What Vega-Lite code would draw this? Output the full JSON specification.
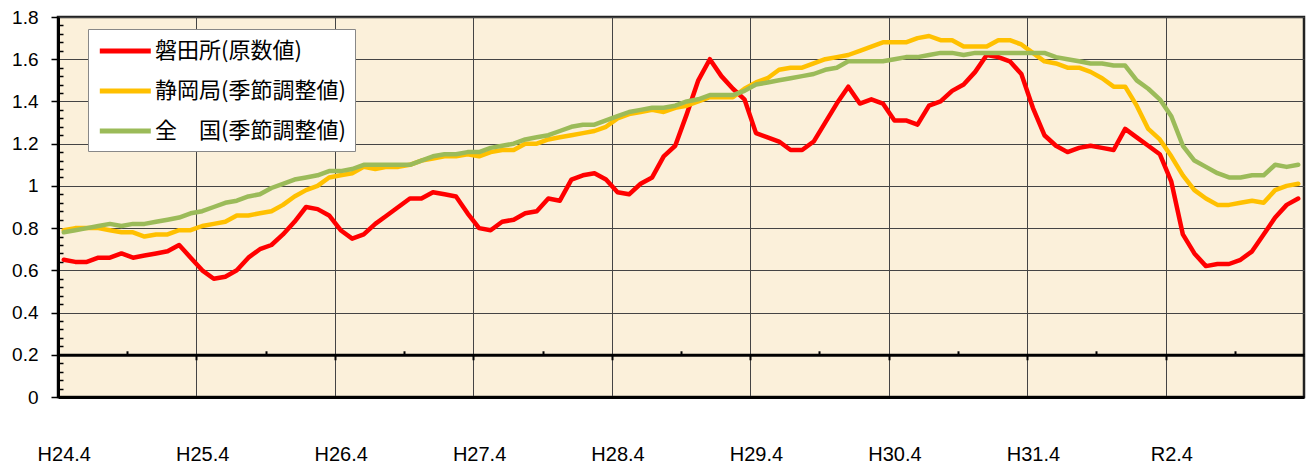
{
  "$schema": "https://vega.github.io/schema/vega-lite/v6.json",
  "width": 1246,
  "height": 380,
  "autosize": {"type": "none"},
  "padding": {"left": 58, "top": 17, "right": 3, "bottom": 67},
  "background": "white",
  "config": {
    "view": {"fill": "#FBF0DA", "stroke": "#222", "strokeWidth": 2.5},
    "font": "Liberation Sans",
    "axis": {"labelFont": "Liberation Sans", "labelColor": "#000", "title": null}
  },
  "data": {
    "values": [
      {"m": 0, "a": 0.65, "b": 0.79, "c": 0.78},
      {"m": 1, "a": 0.64, "b": 0.80, "c": 0.79},
      {"m": 2, "a": 0.64, "b": 0.80, "c": 0.80},
      {"m": 3, "a": 0.66, "b": 0.80, "c": 0.81},
      {"m": 4, "a": 0.66, "b": 0.79, "c": 0.82},
      {"m": 5, "a": 0.68, "b": 0.78, "c": 0.81},
      {"m": 6, "a": 0.66, "b": 0.78, "c": 0.82},
      {"m": 7, "a": 0.67, "b": 0.76, "c": 0.82},
      {"m": 8, "a": 0.68, "b": 0.77, "c": 0.83},
      {"m": 9, "a": 0.69, "b": 0.77, "c": 0.84},
      {"m": 10, "a": 0.72, "b": 0.79, "c": 0.85},
      {"m": 11, "a": 0.66, "b": 0.79, "c": 0.87},
      {"m": 12, "a": 0.60, "b": 0.81, "c": 0.88},
      {"m": 13, "a": 0.56, "b": 0.82, "c": 0.90},
      {"m": 14, "a": 0.57, "b": 0.83, "c": 0.92},
      {"m": 15, "a": 0.60, "b": 0.86, "c": 0.93},
      {"m": 16, "a": 0.66, "b": 0.86, "c": 0.95},
      {"m": 17, "a": 0.70, "b": 0.87, "c": 0.96},
      {"m": 18, "a": 0.72, "b": 0.88, "c": 0.99},
      {"m": 19, "a": 0.77, "b": 0.91, "c": 1.01},
      {"m": 20, "a": 0.83, "b": 0.95, "c": 1.03},
      {"m": 21, "a": 0.90, "b": 0.98, "c": 1.04},
      {"m": 22, "a": 0.89, "b": 1.00, "c": 1.05},
      {"m": 23, "a": 0.86, "b": 1.04, "c": 1.07},
      {"m": 24, "a": 0.79, "b": 1.05, "c": 1.07},
      {"m": 25, "a": 0.75, "b": 1.06, "c": 1.08},
      {"m": 26, "a": 0.77, "b": 1.09, "c": 1.10},
      {"m": 27, "a": 0.82, "b": 1.08, "c": 1.10},
      {"m": 28, "a": 0.86, "b": 1.09, "c": 1.10},
      {"m": 29, "a": 0.90, "b": 1.09, "c": 1.10},
      {"m": 30, "a": 0.94, "b": 1.10, "c": 1.10},
      {"m": 31, "a": 0.94, "b": 1.12, "c": 1.12},
      {"m": 32, "a": 0.97, "b": 1.13, "c": 1.14},
      {"m": 33, "a": 0.96, "b": 1.14, "c": 1.15},
      {"m": 34, "a": 0.95, "b": 1.14, "c": 1.15},
      {"m": 35, "a": 0.87, "b": 1.15, "c": 1.16},
      {"m": 36, "a": 0.80, "b": 1.14, "c": 1.16},
      {"m": 37, "a": 0.79, "b": 1.16, "c": 1.18},
      {"m": 38, "a": 0.83, "b": 1.17, "c": 1.19},
      {"m": 39, "a": 0.84, "b": 1.17, "c": 1.20},
      {"m": 40, "a": 0.87, "b": 1.20, "c": 1.22},
      {"m": 41, "a": 0.88, "b": 1.20, "c": 1.23},
      {"m": 42, "a": 0.94, "b": 1.22, "c": 1.24},
      {"m": 43, "a": 0.93, "b": 1.23, "c": 1.26},
      {"m": 44, "a": 1.03, "b": 1.24, "c": 1.28},
      {"m": 45, "a": 1.05, "b": 1.25, "c": 1.29},
      {"m": 46, "a": 1.06, "b": 1.26, "c": 1.29},
      {"m": 47, "a": 1.03, "b": 1.28, "c": 1.31},
      {"m": 48, "a": 0.97, "b": 1.32, "c": 1.33},
      {"m": 49, "a": 0.96, "b": 1.34, "c": 1.35},
      {"m": 50, "a": 1.01, "b": 1.35, "c": 1.36},
      {"m": 51, "a": 1.04, "b": 1.36, "c": 1.37},
      {"m": 52, "a": 1.14, "b": 1.35, "c": 1.37},
      {"m": 53, "a": 1.19, "b": 1.37, "c": 1.38},
      {"m": 54, "a": 1.34, "b": 1.38, "c": 1.40},
      {"m": 55, "a": 1.50, "b": 1.40, "c": 1.41},
      {"m": 56, "a": 1.60, "b": 1.42, "c": 1.43},
      {"m": 57, "a": 1.52, "b": 1.42, "c": 1.43},
      {"m": 58, "a": 1.46, "b": 1.42, "c": 1.43},
      {"m": 59, "a": 1.41, "b": 1.46, "c": 1.45},
      {"m": 60, "a": 1.25, "b": 1.49, "c": 1.48},
      {"m": 61, "a": 1.23, "b": 1.51, "c": 1.49},
      {"m": 62, "a": 1.21, "b": 1.55, "c": 1.50},
      {"m": 63, "a": 1.17, "b": 1.56, "c": 1.51},
      {"m": 64, "a": 1.17, "b": 1.56, "c": 1.52},
      {"m": 65, "a": 1.21, "b": 1.58, "c": 1.53},
      {"m": 66, "a": 1.30, "b": 1.60, "c": 1.55},
      {"m": 67, "a": 1.39, "b": 1.61, "c": 1.56},
      {"m": 68, "a": 1.47, "b": 1.62, "c": 1.59},
      {"m": 69, "a": 1.39, "b": 1.64, "c": 1.59},
      {"m": 70, "a": 1.41, "b": 1.66, "c": 1.59},
      {"m": 71, "a": 1.39, "b": 1.68, "c": 1.59},
      {"m": 72, "a": 1.31, "b": 1.68, "c": 1.60},
      {"m": 73, "a": 1.31, "b": 1.68, "c": 1.61},
      {"m": 74, "a": 1.29, "b": 1.70, "c": 1.61},
      {"m": 75, "a": 1.38, "b": 1.71, "c": 1.62},
      {"m": 76, "a": 1.40, "b": 1.69, "c": 1.63},
      {"m": 77, "a": 1.45, "b": 1.69, "c": 1.63},
      {"m": 78, "a": 1.48, "b": 1.66, "c": 1.62},
      {"m": 79, "a": 1.54, "b": 1.66, "c": 1.63},
      {"m": 80, "a": 1.62, "b": 1.66, "c": 1.63},
      {"m": 81, "a": 1.61, "b": 1.69, "c": 1.63},
      {"m": 82, "a": 1.59, "b": 1.69, "c": 1.63},
      {"m": 83, "a": 1.53, "b": 1.67, "c": 1.63},
      {"m": 84, "a": 1.37, "b": 1.63, "c": 1.63},
      {"m": 85, "a": 1.24, "b": 1.59, "c": 1.63},
      {"m": 86, "a": 1.19, "b": 1.58, "c": 1.61},
      {"m": 87, "a": 1.16, "b": 1.56, "c": 1.60},
      {"m": 88, "a": 1.18, "b": 1.56, "c": 1.59},
      {"m": 89, "a": 1.19, "b": 1.54, "c": 1.58},
      {"m": 90, "a": 1.18, "b": 1.51, "c": 1.58},
      {"m": 91, "a": 1.17, "b": 1.47, "c": 1.57},
      {"m": 92, "a": 1.27, "b": 1.47, "c": 1.57},
      {"m": 93, "a": 1.23, "b": 1.38, "c": 1.50},
      {"m": 94, "a": 1.19, "b": 1.27, "c": 1.46},
      {"m": 95, "a": 1.15, "b": 1.22, "c": 1.41},
      {"m": 96, "a": 1.02, "b": 1.14, "c": 1.33},
      {"m": 97, "a": 0.77, "b": 1.05, "c": 1.19},
      {"m": 98, "a": 0.68, "b": 0.98, "c": 1.12},
      {"m": 99, "a": 0.62, "b": 0.94, "c": 1.09},
      {"m": 100, "a": 0.63, "b": 0.91, "c": 1.06},
      {"m": 101, "a": 0.63, "b": 0.91, "c": 1.04},
      {"m": 102, "a": 0.65, "b": 0.92, "c": 1.04},
      {"m": 103, "a": 0.69, "b": 0.93, "c": 1.05},
      {"m": 104, "a": 0.77, "b": 0.92, "c": 1.05},
      {"m": 105, "a": 0.85, "b": 0.98, "c": 1.10},
      {"m": 106, "a": 0.91, "b": 1.00, "c": 1.09},
      {"m": 107, "a": 0.94, "b": 1.01, "c": 1.10}
    ]
  },
  "transform": [{"fold": ["a", "b", "c"], "as": ["s", "v"]}],
  "layer": [
    {
      "mark": {"type": "line", "strokeWidth": 4.5, "strokeJoin": "round", "strokeCap": "round"},
      "encoding": {
        "x": {
          "field": "m", "type": "quantitative",
          "scale": {"domain": [-0.5, 107.5], "nice": false, "zero": false},
          "axis": {"orient": "bottom", "values": [11.5, 23.5, 35.5, 47.5, 59.5, 71.5, 83.5, 95.5], "grid": true, "gridColor": "#444", "gridWidth": 1, "gridOpacity": 1, "ticks": false, "labels": false, "domain": true, "domainColor": "#000", "domainWidth": 3}
        },
        "y": {
          "field": "v", "type": "quantitative",
          "scale": {"domain": [0, 1.8], "nice": false},
          "axis": {"orient": "left", "values": [0, 0.2, 0.4, 0.6, 0.8, 1, 1.2, 1.4, 1.6, 1.8], "format": "~g", "grid": true, "gridColor": "#444", "gridWidth": 1, "gridOpacity": 1, "ticks": true, "tickSize": 7, "tickColor": "#000", "tickWidth": 1.5, "labelFontSize": 19, "labelPadding": 13, "domain": true, "domainColor": "#000", "domainWidth": 3}
        },
        "color": {
          "field": "s", "type": "nominal",
          "scale": {"domain": ["a", "b", "c"], "range": ["#FF0000", "#FFC000", "#9BBB59"]},
          "legend": {
            "orient": "none", "legendX": 30, "legendY": 12, "title": null,
            "fillColor": "#FFFFFF", "strokeColor": "#888888", "padding": 9,
            "symbolType": "M-1,0H4", "symbolSize": 416, "symbolStrokeWidth": 5, "symbolOffset": 0,
            "labelFont": "Noto Sans CJK JP", "labelFontSize": 22, "labelColor": "#000", "labelOffset": 32, "labelLimit": 0, "rowPadding": 16,
            "labelExpr": "datum.value == 'a' ? '磐田所(原数値)' : datum.value == 'b' ? '静岡局(季節調整値)' : '全　国(季節調整値)'"
          }
        }
      }
    },
    {
      "mark": {"type": "point", "opacity": 0},
      "encoding": {
        "x": {
          "field": "m", "type": "quantitative",
          "axis": {"orient": "bottom", "values": [0, 12, 24, 36, 48, 60, 72, 84, 96], "labelExpr": "datum.value == 96 ? 'R2.4' : 'H' + (24 + datum.value / 12) + '.4'", "grid": false, "ticks": false, "tickSize": 0, "domain": false, "labelFontSize": 20, "labelPadding": 47}
        },
        "y": {"field": "v", "type": "quantitative", "axis": null}
      }
    },
    {
      "mark": {"type": "point", "opacity": 0},
      "encoding": {
        "x": {
          "field": "m", "type": "quantitative",
          "axis": {"orient": "bottom", "offset": -42.22, "values": [11.5, 23.5, 35.5, 47.5, 59.5, 71.5, 83.5, 95.5], "grid": false, "labels": false, "ticks": true, "tickSize": 5, "tickWidth": 2, "tickColor": "#000", "domain": true, "domainColor": "#000", "domainWidth": 3}
        },
        "y": {
          "field": "v", "type": "quantitative",
          "axis": {"orient": "right", "offset": -1246, "values": [0.04, 0.08, 0.12, 0.16, 0.24, 0.28, 0.32, 0.36, 0.44, 0.48, 0.52, 0.56, 0.64, 0.68, 0.72, 0.76, 0.84, 0.88, 0.92, 0.96, 1.04, 1.08, 1.12, 1.16, 1.24, 1.28, 1.32, 1.36, 1.44, 1.48, 1.52, 1.56, 1.64, 1.68, 1.72, 1.76], "grid": false, "labels": false, "domain": false, "ticks": true, "tickSize": 5, "tickWidth": 1.5, "tickColor": "#000"}
        }
      }
    },
    {
      "mark": {"type": "point", "opacity": 0},
      "encoding": {
        "x": {
          "field": "m", "type": "quantitative",
          "axis": {"orient": "top", "offset": -337.78, "values": [5.5, 17.5, 29.5, 41.5, 53.5, 65.5, 77.5, 89.5, 101.5], "grid": false, "labels": false, "domain": false, "ticks": true, "tickSize": 4, "tickWidth": 2, "tickColor": "#000"}
        },
        "y": {"field": "v", "type": "quantitative", "axis": null}
      }
    }
  ],
  "resolve": {"axis": {"x": "independent", "y": "independent"}}
}
